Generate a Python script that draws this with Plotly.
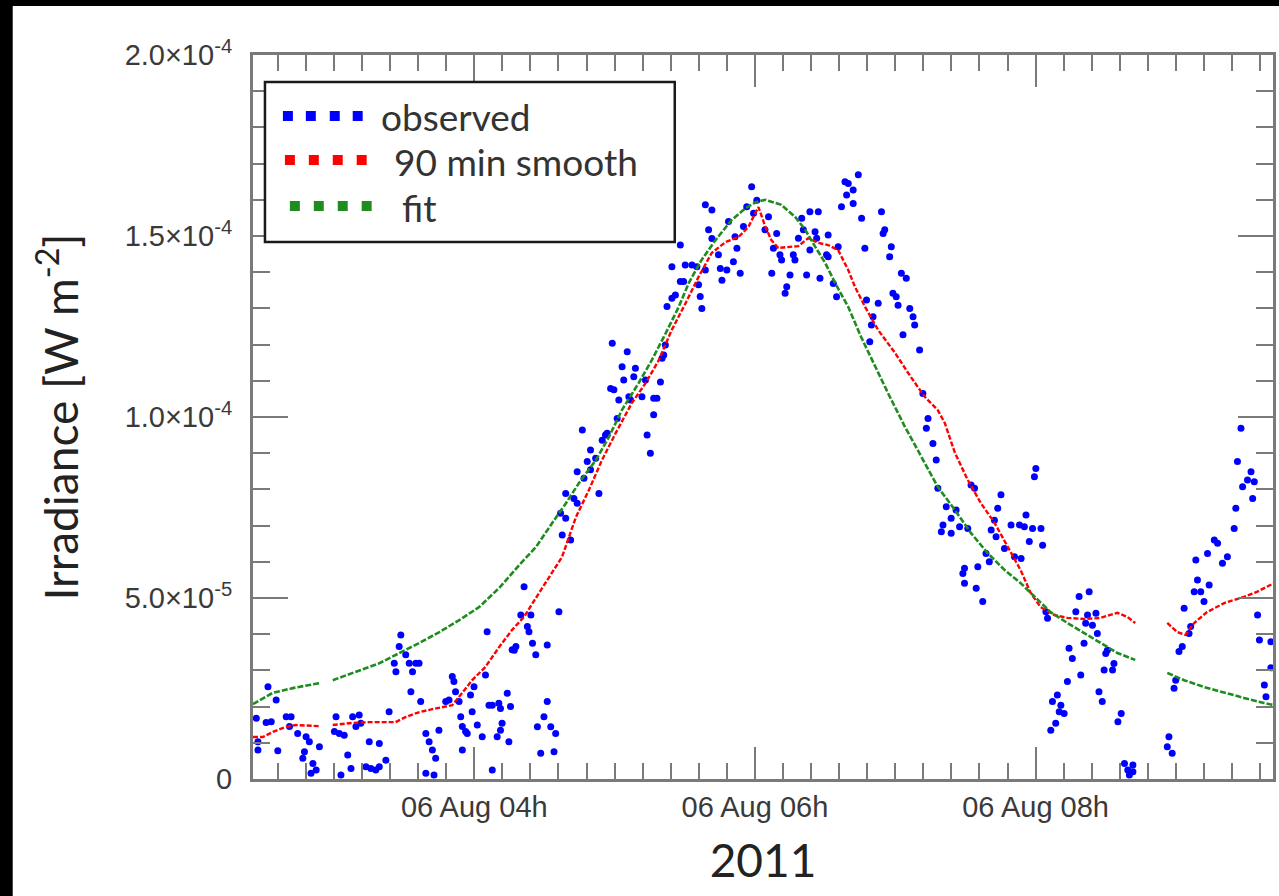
import pandas as pd
import plotly.graph_objects as go

# ---------------- data (time = minutes after 2011-08-06 00:00, irradiance in 1e-5 W m^-2) -------------
obs_time_min = [
    146.8, 147.5, 147.5, 151.8, 151.0, 153.2, 155.3, 156.0, 159.6, 161.7, 161.0, 164.5, 168.1, 169.5,
    167.4, 166.7, 173.8, 171.0, 172.4, 170.2, 180.9, 180.2, 182.3, 184.4, 185.9, 187.3, 188.0, 190.8,
    189.4, 191.5, 183.0, 195.1, 199.4, 193.7, 195.8, 197.9, 199.4, 202.2, 203.6, 205.8, 206.5, 207.9,
    208.6, 210.7, 212.2, 215.0, 216.4, 213.6, 212.9, 217.1, 219.3, 220.7, 222.1, 223.5, 219.3, 222.8,
    224.9, 227.8, 229.2, 230.6, 231.3, 232.0, 233.5, 234.2, 234.9, 236.3, 237.0, 234.9, 239.1, 238.4,
    239.9, 241.3, 243.4, 244.8, 245.5, 246.3, 247.7, 247.7, 250.5, 251.2, 251.9, 251.2, 249.8, 254.1,
    254.8, 255.5, 256.2,
    259.9, 264.2, 262.7, 263.4, 257.8, 257.1, 264.9, 266.3, 271.2, 276.2, 271.2, 269.8, 267.0, 272.7,
    274.8, 268.4, 274.1,
    261.3, 276.9, 279.1, 277.6, 281.2, 279.1, 282.6, 284.0, 284.0, 286.9, 288.3, 289.7, 291.9, 289.7,
    293.3, 286.2, 294.7, 296.1, 296.8, 301.1, 299.0, 305.4, 303.2, 303.9, 308.9, 308.2, 298.3, 299.7,
    301.8, 306.1, 306.8, 311.7, 313.2, 316.7, 318.1, 319.6, 316.7, 313.9, 315.3, 321.7, 321.0, 320.3,
    322.4, 324.5, 326.0, 328.1, 329.5, 335.9, 336.6, 337.3, 324.5, 330.2, 333.1, 335.2, 338.8, 328.1,
    345.2, 345.9, 348.0, 350.8, 353.7, 352.3, 344.4, 340.2, 341.6, 338.8, 341.6, 348.7, 351.5, 355.1,
    356.5, 358.6, 359.4, 360.8,
    365.8, 364.3, 369.3, 367.9, 370.7, 371.4, 376.4, 377.1, 367.2, 375.0, 373.6, 372.9, 382.1, 387.8,
    380.0, 383.5, 387.1, 380.7, 378.6, 385.7, 386.4, 383.5, 391.3, 390.6, 391.3, 395.6, 393.5, 394.9,
    397.0, 398.5, 399.9, 402.0, 399.2, 402.0, 404.2, 405.6, 407.0, 414.1, 415.5, 414.8, 418.3, 417.6,
    422.6, 424.7, 419.0, 420.4, 421.2, 407.7, 412.7, 410.5, 426.2, 427.6, 428.3, 409.8, 423.3, 409.1,
    430.4, 431.8, 434.0, 433.3, 436.1, 437.5, 438.2, 441.8, 446.0, 443.9, 440.4, 439.7, 443.9, 447.5,
    451.0, 452.4, 453.9, 465.2, 463.8, 462.4, 461.0, 463.1, 466.7, 469.5, 473.1, 475.9, 475.2, 471.0,
    473.8, 458.8, 460.2, 455.3, 449.6, 448.9, 449.6, 454.6, 457.4,
    480.1, 479.5, 478.7, 482.3, 477.3, 483.0, 484.4, 485.1, 498.6, 502.9, 497.2, 502.2, 505.8, 501.4,
    504.3, 506.4, 500.7, 494.3, 495.7, 510.7, 510.0, 513.5, 509.3, 512.9, 499.3, 493.6, 507.1, 508.5,
    489.3, 487.2, 490.8, 490.1, 492.2, 488.6, 486.5, 516.6, 515.2, 518.0, 519.4, 521.6, 520.1, 521.6,
    537.0, 536.3, 538.4, 539.9, 539.2, 541.3, 542.7, 546.3, 545.6, 543.5, 547.8, 549.2, 550.6, 552.0,
    554.2, 548.5, 553.5, 556.4, 557.8, 559.9, 562.0, 564.9, 565.6, 566.3, 567.8, 568.5, 570.6, 572.1,
    573.5, 572.8, 574.9, 575.7, 580.6, 577.8, 578.5, 580.6,
]
obs_irr_e5 = [
    1.68, 1.03, 0.80, 2.55, 1.56, 1.58, 2.18, 0.78, 1.72, 1.72, 1.45, 1.26, 1.17, 1.03,
    0.75, 0.57, 0.89, 0.43, 0.25, 0.16, 1.72, 1.31, 1.26, 1.21, 0.66, 0.29, 1.72, 1.77,
    1.45, 1.54, 0.11, 1.03, 0.98, 0.34, 0.29, 0.25, 0.34, 0.52, 1.86, 3.20, 2.96, 3.66,
    3.98, 3.43, 3.20, 3.20, 3.20, 2.96, 2.41, 2.14, 1.26, 1.03, 0.80, 0.57, 0.16, 0.11,
    1.35, 2.14, 2.18, 2.83, 2.69, 2.41, 2.14, 1.72, 1.45, 1.31, 1.26, 0.80, 1.86, 2.32,
    2.55, 1.49, 1.17, 2.87, 4.07, 2.04, 2.04, 0.25, 2.09, 1.95, 1.54, 1.35, 1.17, 2.37,
    1.03, 2.00, 3.57,
    4.53, 4.53, 4.21, 4.07, 3.66, 3.56, 3.75, 3.43, 3.70, 4.62, 2.14, 1.72, 1.44, 1.44,
    1.26, 0.71, 0.75,
    5.31, 7.34, 7.20, 6.74, 6.60, 7.89, 7.75, 7.62, 8.49, 8.31, 8.77, 9.09, 8.86, 8.54,
    7.89, 9.64, 9.36, 9.50, 9.55, 9.96, 12.04, 11.80, 11.39, 11.02, 11.35, 11.11, 10.79, 10.75,
    10.47, 10.56, 10.47, 10.56, 11.02, 10.52, 10.52, 10.97, 10.06, 9.50, 9.00, 11.99, 11.71, 11.62,
    13.05, 13.28, 13.37, 13.74, 13.74, 13.65, 13.33, 13.00, 14.15, 14.20, 14.20, 14.15, 14.06, 14.75,
    14.10, 13.78, 14.06, 14.29, 13.97, 14.66, 14.48, 15.17, 14.93, 15.86, 15.72, 15.40, 14.98, 15.26,
    15.81, 16.36, 15.63, 15.99,
    15.53, 15.17, 15.07, 14.66, 14.48, 14.34, 14.48, 14.34, 13.97, 13.92, 13.60, 13.42, 13.92, 13.83,
    15.49, 15.67, 15.67, 15.17, 14.94, 15.12, 14.94, 14.61, 15.03, 14.48, 14.43, 14.70, 13.69, 13.32,
    15.81, 16.50, 16.45, 16.27, 16.13, 15.90, 16.69, 15.49, 14.66, 15.67, 15.17, 15.07, 14.70, 14.43,
    13.97, 13.83, 13.42, 13.32, 13.09, 13.23, 13.14, 12.77, 13.00, 12.77, 12.54, 12.54, 12.27, 12.08,
    11.85, 10.65, 9.96, 9.69, 9.27, 8.81, 8.03, 7.52, 7.43, 7.20, 7.02, 6.83, 6.79, 6.97,
    6.92, 8.12, 8.03, 7.85, 7.48, 7.15, 6.88, 6.69, 6.37, 7.02, 7.02, 7.29, 6.97, 6.14,
    6.09, 6.23, 6.00, 5.86, 5.82, 5.68, 5.41, 5.27, 4.90,
    8.58, 8.35, 6.92, 6.92, 6.56, 6.46, 4.62, 4.44, 5.04, 5.17, 4.62, 4.53, 4.58, 4.30,
    4.25, 4.02, 3.75, 3.61, 3.33, 3.56, 3.47, 3.19, 3.01, 3.01, 2.87, 2.69, 2.41, 2.14,
    2.32, 2.14, 2.04, 1.86, 1.81, 1.54, 1.35, 1.81, 1.58, 0.43, 0.25, 0.39, 0.11, 0.20,
    1.17, 0.89, 0.71, 2.73, 2.51, 3.52, 3.66, 4.21, 4.02, 4.72, 5.17, 5.50, 5.17, 4.90,
    5.36, 6.05, 6.23, 6.60, 6.51, 5.96, 6.14, 6.92, 7.48, 8.77, 9.69, 8.07, 8.26, 8.49,
    8.21, 7.75, 4.53, 3.84, 3.79, 2.60, 2.27, 3.07,
]

smooth_time_min = [
    145.4, 149.6, 153.9, 159.4, 163.7, 173.9, 176.5, 179.5, 188.0, 195.2, 206.3, 210.6, 216.6, 222.1,
    230.6, 234.9, 239.1, 244.7, 250.7, 256.2, 261.3, 267.7, 275.0, 277.5, 283.5, 289.0, 294.6, 300.5,
    307.4, 313.3, 318.9, 324.4, 330.4, 335.9, 341.5, 347.4, 353.0, 357.2, 360.2, 361.5, 364.5, 367.0,
    370.0, 374.3, 378.5, 382.8, 387.1, 391.3, 395.6, 399.9, 402.8, 407.1, 412.7, 419.9, 426.7, 432.7,
    438.2, 441.2, 445.5, 451.0, 456.6, 462.5, 468.1, 473.6, 477.9, 482.1, 488.1, 493.6, 500.9, 507.7,
    515.0, 519.2, 522.6, 530.0, 536.3, 540.5, 544.0, 547.8, 553.3, 560.6, 569.1, 574.6, 581.9,
]
smooth_irr_e5 = [
    1.16, 1.16, 1.30, 1.44, 1.49, 1.46, None, 1.49, 1.55, 1.57, 1.57, 1.71, 1.85, 1.93,
    2.04, 2.38, 2.73, 3.09, 3.65, 4.12, 4.48, 5.14, 5.86, 6.13, 7.24, 7.98, 8.81, 9.56,
    10.39, 10.94, 11.57, 12.40, 13.15, 13.87, 14.53, 14.83, 14.97, 15.25, 15.64, 15.80, 15.25, 14.89,
    14.67, 14.70, 14.72, 14.94, 14.81, 14.75, 14.61, 14.06, 13.59, 13.04, 12.40, 11.77, 11.10, 10.55,
    10.19, 9.83, 9.01, 8.26, 7.62, 7.07, 6.41, 5.77, 5.14, 4.75, 4.53, 4.45, 4.42, 4.45,
    4.59, 4.48, 4.31, None, 4.31, 4.06, 3.98, 4.31, 4.61, 4.86, 5.03, 5.17, 5.41,
]

fit_time_min = [
    145.4, 153.9, 162.4, 173.9, 176.5, 179.5, 188.0, 199.5, 208.0, 216.6, 225.1, 233.6, 242.1, 250.7,
    259.2, 266.4, 273.3, 279.2, 284.8, 292.0, 297.6, 303.1, 310.3, 315.9, 321.9, 327.4, 331.7, 337.2,
    343.2, 350.0, 356.0, 360.6, 364.5, 371.3, 377.3, 381.5, 385.8, 390.1, 394.3, 399.9, 405.4, 411.4,
    416.9, 424.2, 431.0, 438.2, 445.5, 452.3, 459.5, 466.8, 473.6, 479.6, 486.4, 493.6, 500.9, 507.7,
    515.0, 522.6, 530.0, 536.3, 543.5, 552.0, 560.6, 569.1, 577.6, 581.9,
]
fit_irr_e5 = [
    2.07, 2.38, 2.51, 2.65, None, 2.73, 2.93, 3.20, 3.48, 3.76, 4.06, 4.39, 4.75, 5.28,
    5.91, 6.41, 7.07, 7.62, 8.18, 8.81, 9.45, 10.19, 10.94, 11.57, 12.32, 13.04, 13.70, 14.34,
    14.89, 15.44, 15.77, 15.94, 16.00, 15.86, 15.52, 15.17, 14.70, 14.25, 13.70, 13.04, 12.21, 11.38,
    10.66, 9.72, 8.90, 8.07, 7.43, 6.80, 6.24, 5.77, 5.41, 5.03, 4.61, 4.31, 4.03, 3.76,
    3.48, 3.29, None, 2.93, 2.73, 2.54, 2.38, 2.24, 2.10, 2.04,
]

y_tick_vals = [0, 5e-5, 1e-4, 1.5e-4, 2e-4]
y_tick_text = ["0", "5.0×10<sup>-5</sup>", "1.0×10<sup>-4</sup>", "1.5×10<sup>-4</sup>", "2.0×10<sup>-4</sup>"]
legend_labels = ["observed", " 90 min smooth", "  fit"]

# ---------------- helpers -------------
BASE = pd.Timestamp("2011-08-06 00:00:00")


def to_time(mins):
    return [BASE + pd.Timedelta(minutes=m) for m in mins]


def to_irr(vals):
    return [None if v is None else v * 1e-5 for v in vals]


# plot area in pixels
L, T, W, H = 253, 55, 1023, 724
FIG_W, FIG_H = 1279, 896


def px(x):
    return (x - L) / W


def py(y):
    return (T + H - y) / H


BLUE, RED, GREEN = "#0000ff", "#ff0000", "#1e8c1e"
AXIS_COL = "#7a7a7a"
TXT = "#333333"

fig = go.Figure()
fig.add_trace(go.Scatter(
    x=to_time(obs_time_min), y=to_irr(obs_irr_e5), mode="markers",
    marker=dict(color=BLUE, size=7, line=dict(width=0)), name=legend_labels[0], showlegend=False,
))
fig.add_trace(go.Scatter(
    x=to_time(smooth_time_min), y=to_irr(smooth_irr_e5), mode="lines", connectgaps=False,
    line=dict(color=RED, width=2.4, dash="5px,2px"), name=legend_labels[1], showlegend=False,
))
fig.add_trace(go.Scatter(
    x=to_time(fit_time_min), y=to_irr(fit_irr_e5), mode="lines", connectgaps=False,
    line=dict(color=GREEN, width=2.6, dash="6px,2px"), name=legend_labels[2], showlegend=False,
))

shapes = []
# black frame bands (top and left edge of the picture)
shapes.append(dict(type="rect", xref="paper", yref="paper", x0=px(-5), x1=px(FIG_W + 5),
                   y0=py(6), y1=py(-5), fillcolor="black", line=dict(width=0), layer="above"))
shapes.append(dict(type="rect", xref="paper", yref="paper", x0=px(-5), x1=px(12),
                   y0=py(FIG_H + 5), y1=py(-5), fillcolor="black", line=dict(width=0), layer="above"))
# legend box
shapes.append(dict(type="rect", xref="paper", yref="paper", x0=px(265), x1=px(676),
                   y0=py(242), y1=py(82), fillcolor="white", line=dict(color="#1a1a1a", width=2.5),
                   layer="above"))
legend_rows = [
    (BLUE, [288, 311, 335, 358], 116, 379),
    (RED, [290, 314, 338, 362], 160, 392),
    (GREEN, [295, 319, 343, 367], 206, 400),
]
annotations = []
for (col, xs, yc, tx), lab in zip(legend_rows, legend_labels):
    for xc in xs:
        shapes.append(dict(type="rect", xref="paper", yref="paper",
                           x0=px(xc - 5), x1=px(xc + 5), y0=py(yc + 5), y1=py(yc - 5),
                           fillcolor=col, line=dict(width=0), layer="above"))
    annotations.append(dict(xref="paper", yref="paper", x=px(tx), y=py(yc + 1), xanchor="left",
                            yanchor="middle", text=lab.strip(), showarrow=False,
                            font=dict(family="Lato", size=37, color=TXT)))

fig.update_layout(
    width=FIG_W, height=FIG_H,
    margin=dict(l=L, r=FIG_W - L - W, t=T, b=FIG_H - T - H),
    paper_bgcolor="white", plot_bgcolor="white",
    showlegend=False,
    shapes=shapes, annotations=annotations,
    xaxis=dict(
        type="date",
        range=[BASE + pd.Timedelta(minutes=145.4), BASE + pd.Timedelta(minutes=581.5)],
        showgrid=False, zeroline=False,
        showline=True, linecolor=AXIS_COL, linewidth=3, mirror="ticks",
        ticks="inside", ticklen=32, tickwidth=2, tickcolor=AXIS_COL,
        tick0="2011-08-06 00:00:00", dtick=2 * 3600 * 1000, tickformat="%d %b %Hh",
        tickfont=dict(family="Liberation Sans", size=29, color="#3a3a3a"),
        minor=dict(ticks="inside", ticklen=16, tickwidth=2, tickcolor=AXIS_COL,
                   dtick=12 * 60 * 1000, tick0="2011-08-06 00:00:00", showgrid=False),
        title=dict(text="2011", font=dict(family="Lato", size=46, color="#222222"), standoff=24),
    ),
    yaxis=dict(
        range=[0, 2e-4], showgrid=False, zeroline=False,
        showline=True, linecolor=AXIS_COL, linewidth=3, mirror="ticks",
        ticks="inside", ticklen=35, tickwidth=2, tickcolor=AXIS_COL,
        tickvals=y_tick_vals, ticktext=y_tick_text, ticklabelstandoff=12,
        tickfont=dict(family="Liberation Sans", size=29, color="#3a3a3a"),
        minor=dict(ticks="inside", ticklen=17, tickwidth=2, tickcolor=AXIS_COL, dtick=1e-5,
                   showgrid=False),
        title=dict(text="Irradiance [W m<sup>-2</sup>]", font=dict(family="Lato", size=46, color="#222222"),
                   standoff=32),
    ),
)

fig.write_html("out.html")
